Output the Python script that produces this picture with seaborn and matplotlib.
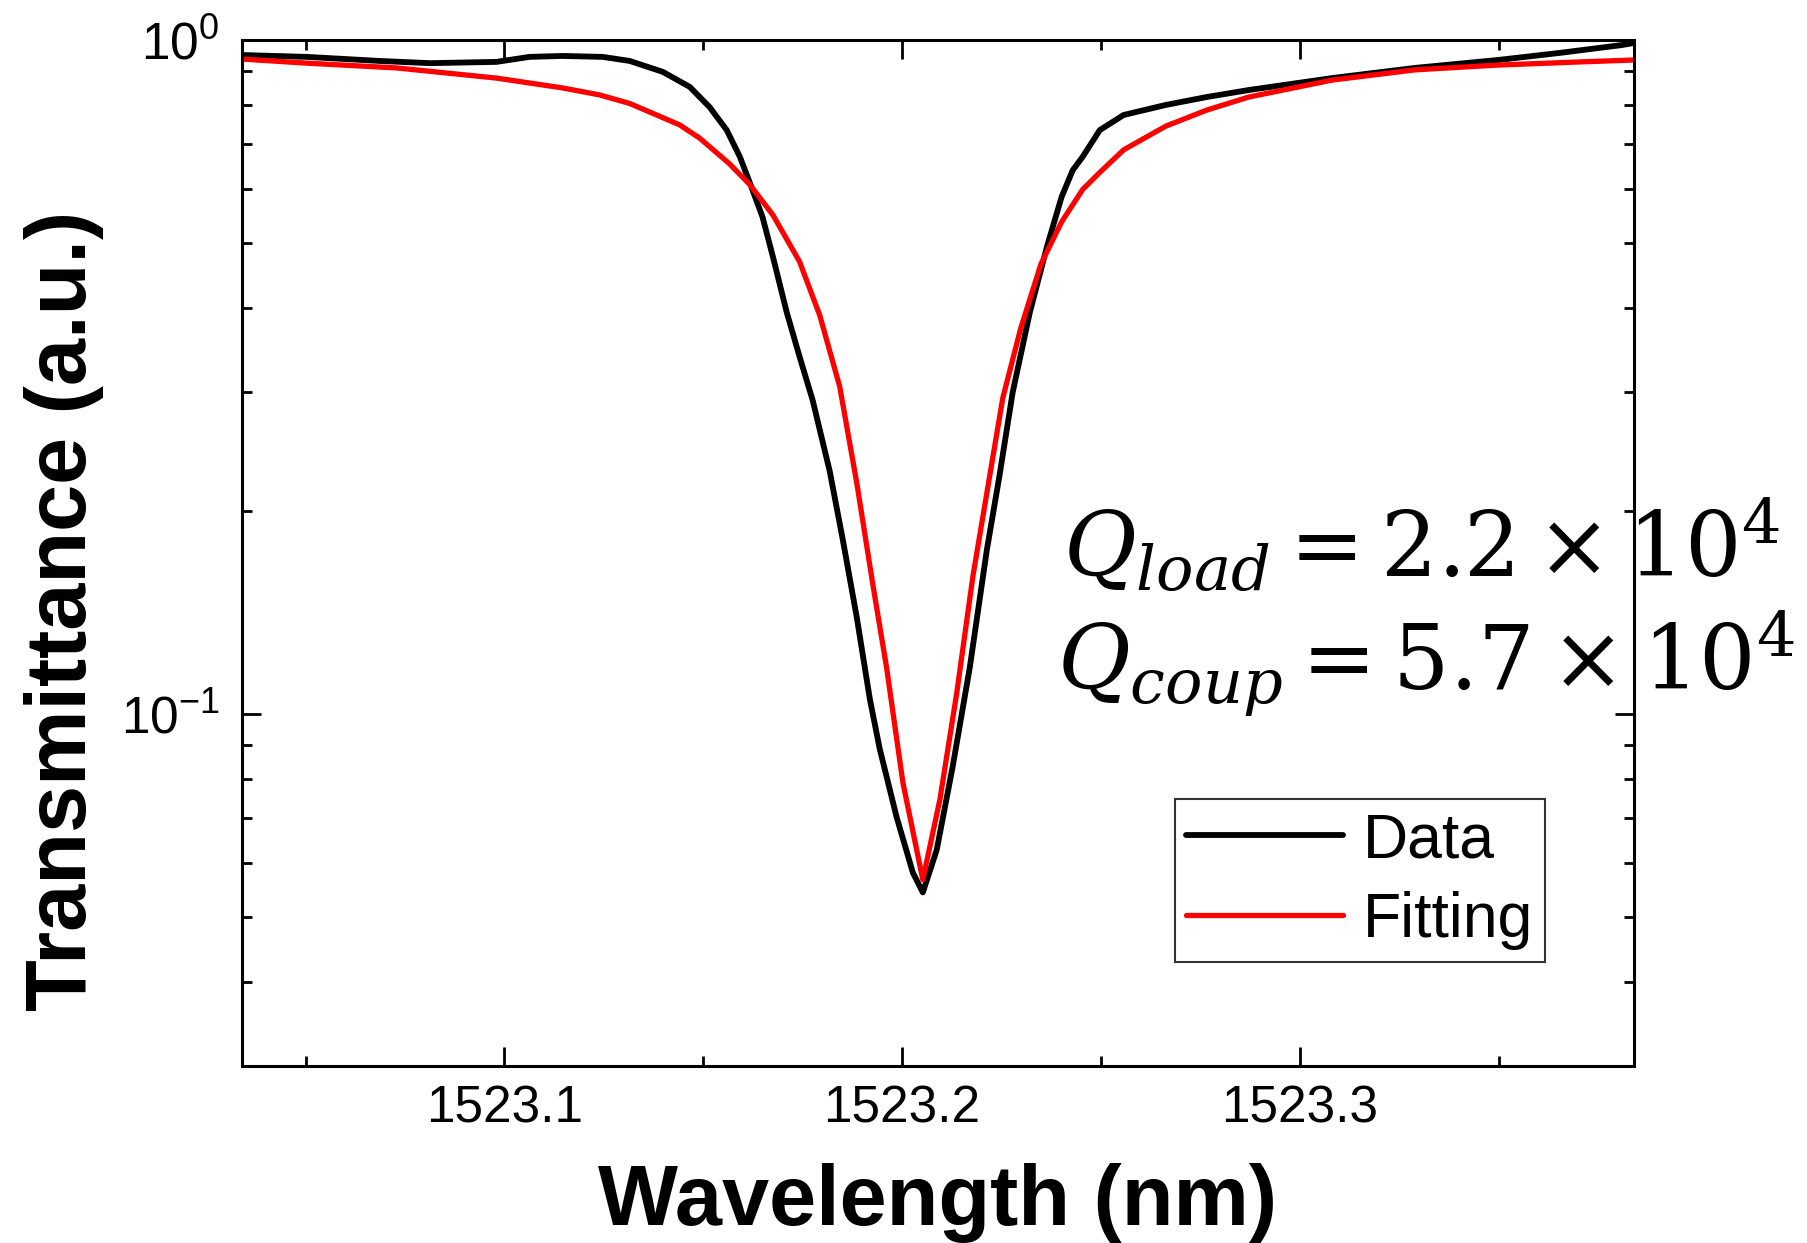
import numpy as np
import pandas as pd
import matplotlib
matplotlib.use("Agg")
import matplotlib.pyplot as plt
import seaborn as sns
from matplotlib.ticker import MultipleLocator, AutoMinorLocator, FormatStrFormatter, NullFormatter

data_wl = [1523.0340, 1523.0503, 1523.0686, 1523.0812, 1523.0980, 1523.1063, 1523.1146, 1523.1247,
           1523.1315, 1523.1398, 1523.1466, 1523.1516, 1523.1559, 1523.1592, 1523.1617, 1523.1649,
           1523.1675, 1523.1710, 1523.1742, 1523.1775, 1523.1818, 1523.1851, 1523.1886, 1523.1919,
           1523.1944, 1523.1986, 1523.2027, 1523.2052, 1523.2087, 1523.2127, 1523.2170, 1523.2213,
           1523.2245, 1523.2278, 1523.2321, 1523.2364, 1523.2401, 1523.2429, 1523.2454, 1523.2497,
           1523.2557, 1523.2663, 1523.2766, 1523.2872, 1523.3081, 1523.3289, 1523.3498, 1523.3654,
           1523.3810, 1523.3840]
data_t = [0.950, 0.944, 0.931, 0.924, 0.928, 0.944, 0.947, 0.944,
          0.931, 0.897, 0.852, 0.795, 0.735, 0.671, 0.614, 0.546,
          0.477, 0.394, 0.339, 0.292, 0.229, 0.181, 0.139, 0.105,
          0.0885, 0.0703, 0.0581, 0.0543, 0.0628, 0.0834, 0.117, 0.175,
          0.226, 0.300, 0.394, 0.493, 0.585, 0.641, 0.671, 0.735,
          0.774, 0.801, 0.823, 0.843, 0.878, 0.909, 0.934, 0.957,
          0.983, 0.990]

# fitted curve (red)
fit_wl = [1523.0340, 1523.0503, 1523.0729, 1523.0980, 1523.1146, 1523.1239, 1523.1315, 1523.1365,
          1523.1441, 1523.1491, 1523.1566, 1523.1617, 1523.1675, 1523.1742, 1523.1793, 1523.1843,
          1523.1886, 1523.1926, 1523.1961, 1523.2002, 1523.2052, 1523.2095, 1523.2137, 1523.2178,
          1523.2220, 1523.2253, 1523.2298, 1523.2349, 1523.2401, 1523.2454, 1523.2497, 1523.2557,
          1523.2663, 1523.2766, 1523.2872, 1523.3081, 1523.3289, 1523.3498, 1523.3707, 1523.3840]
fit_t = [0.937, 0.924, 0.909, 0.878, 0.849, 0.829, 0.805, 0.782,
         0.748, 0.715, 0.655, 0.610, 0.550, 0.469, 0.390, 0.306,
         0.220, 0.156, 0.117, 0.0790, 0.0567, 0.0746, 0.107, 0.160,
         0.225, 0.294, 0.373, 0.465, 0.537, 0.600, 0.636, 0.687,
         0.745, 0.787, 0.823, 0.872, 0.903, 0.918, 0.928, 0.934]

series_labels = ["Data", "Fitting"]
q_texts = [r"$Q_{load} = 2.2 \times 10^4$", r"$Q_{coup} = 5.7 \times 10^4$"]

sns.set_theme(style="ticks")
plt.rcParams["font.family"] = ["Liberation Sans", "DejaVu Sans"]
plt.rcParams["axes.unicode_minus"] = False
for k in ["text.color", "axes.labelcolor", "xtick.color", "ytick.color", "axes.edgecolor"]:
    plt.rcParams[k] = "black"

fig = plt.figure(figsize=(18.07, 12.43), dpi=100)
ax = fig.add_axes([0.1339, 0.1424, 0.7703, 0.8254])

df_data = pd.DataFrame({"wl": data_wl, "T": data_t})
df_fit = pd.DataFrame({"wl": fit_wl, "T": fit_t})
sns.lineplot(data=df_data, x="wl", y="T", ax=ax, color="black", lw=4.2, label=series_labels[0])
sns.lineplot(data=df_fit, x="wl", y="T", ax=ax, color="#ff0000", lw=3.8, label=series_labels[1])

ax.set_yscale("log")
ax.set_ylim(0.03, 1.0)
ax.set_xlim(1523.034, 1523.384)

ax.xaxis.set_major_locator(MultipleLocator(0.1))
ax.xaxis.set_minor_locator(AutoMinorLocator(2))
ax.xaxis.set_major_formatter(FormatStrFormatter("%.1f"))
ax.yaxis.set_minor_formatter(NullFormatter())

ax.tick_params(which="both", direction="in", top=True, right=True, color="black", width=2)
ax.tick_params(which="major", length=14, labelsize=37, pad=13)
ax.tick_params(which="minor", length=7.5)
ax.tick_params(axis="y", which="major", pad=16)
for s in ax.spines.values():
    s.set_linewidth(2.2)
    s.set_color("black")

ax.set_xlabel("Wavelength (nm)", fontsize=61, fontweight="bold")
ax.set_ylabel("Transmittance (a.u.)", fontsize=61, fontweight="bold")
ax.xaxis.set_label_coords(0.5, -0.095)
ax.yaxis.set_label_coords(-0.099, 0.444)

leg = ax.legend(loc="upper left", bbox_to_anchor=(0.670, 0.260), borderaxespad=0,
                fontsize=45, frameon=True, fancybox=False, framealpha=1,
                edgecolor="#333333", handlelength=2.5, handletextpad=0.32,
                labelspacing=0.33, borderpad=0.19)
leg.get_frame().set_linewidth(1.5)

# Q factor annotation
fig.text(0.5885, 0.535, q_texts[0], fontsize=64, math_fontfamily="dejavuserif",
         ha="left", va="baseline")
fig.text(0.5852, 0.445, q_texts[1], fontsize=64, math_fontfamily="dejavuserif",
         ha="left", va="baseline")

fig.savefig("out.png", dpi=100)
